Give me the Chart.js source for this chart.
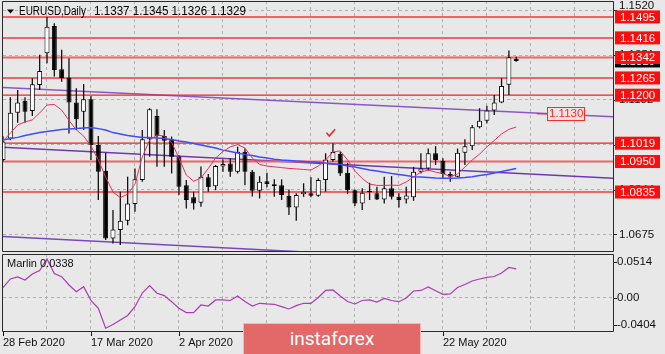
<!DOCTYPE html>
<html>
<head>
<meta charset="utf-8">
<script src="https://cdn.jsdelivr.net/npm/chart.js@4.4.1/dist/chart.umd.min.js"></script>
<style>
  html, body { margin: 0; padding: 0; background: #e8e8e8; }
  #wrap { position: relative; width: 665px; height: 354px; overflow: hidden; background: #e8e8e8; }
  #wrap canvas { position: absolute; left: 0; top: 0; }
  #logo { position: absolute; left: 243px; top: 323px; width: 178px; height: 31px; box-sizing: border-box;
          background: #e36868; border: 1px solid #f4b8b8; border-bottom: none;
          color: #fff; font: 19px Roboto, "Liberation Sans", sans-serif; text-align: center; line-height: 30px; }
</style>
</head>
<body>
<div id="wrap">
  <canvas id="main" width="665" height="354"></canvas>
  <canvas id="osc" width="665" height="354"></canvas>
  <div id="logo">instaforex</div>
</div>
<script>
// EURUSD daily, 28 Feb 2020 .. 5 Jun 2020 (bar index 0..70)
const opens = [
  1.0956,1.1037,1.1134,1.1179,1.1140,1.1238,1.1358,1.1461,1.1298,1.1266,
  1.1172,1.1138,1.1185,1.1012,1.0915,1.0660,1.0692,1.0727,1.0790,1.0880,
  1.1034,1.1122,1.1046,1.1034,1.0968,1.0861,1.0815,1.0795,1.0891,1.0857,
  1.0931,1.0943,1.0911,1.0987,1.0911,1.0840,1.0876,1.0864,1.0861,1.0821,
  1.0777,1.0827,1.0830,1.0821,1.0880,1.0956,1.0978,1.0908,1.0842,1.0792,
  1.0840,1.0830,1.0807,1.0849,1.0817,1.0807,1.0815,1.0911,1.0924,1.0981,
  1.0953,1.0903,1.0893,1.0983,1.1008,1.1079,1.1104,1.1142,1.1172,1.1239,
  1.1337];
const highs = [
  1.1045,1.1192,1.1220,1.1192,1.1264,1.1352,1.1495,1.1471,1.1371,1.1339,
  1.1226,1.1242,1.1197,1.1046,1.0983,1.0767,1.0836,1.0893,1.0924,1.1069,
  1.1151,1.1147,1.1069,1.1044,1.0975,1.0880,1.0836,1.0931,1.0903,1.0937,
  1.0958,1.0962,1.1006,1.0999,1.0918,1.0895,1.0908,1.0883,1.0883,1.0845,
  1.0830,1.0868,1.0891,1.0887,1.0981,1.1019,1.0987,1.0945,1.0845,1.0849,
  1.0870,1.0855,1.0893,1.0895,1.0830,1.0855,1.0930,1.0981,1.0999,1.1008,
  1.0962,1.0911,1.0999,1.1034,1.1088,1.1151,1.1160,1.1201,1.1264,1.1368,
  1.1345];
const lows = [
  1.0950,1.1030,1.1096,1.1096,1.1122,1.1220,1.1320,1.1270,1.1251,1.1056,
  1.1069,1.1069,1.0956,1.0805,1.0654,1.0641,1.0635,1.0710,1.0761,1.0874,
  1.0968,1.0930,1.0930,1.0905,1.0824,1.0773,1.0769,1.0780,1.0836,1.0842,
  1.0911,1.0893,1.0905,1.0861,1.0818,1.0811,1.0853,1.0817,1.0805,1.0748,
  1.0727,1.0817,1.0815,1.0817,1.0836,1.0949,1.0895,1.0827,1.0782,1.0767,
  1.0805,1.0805,1.0792,1.0807,1.0777,1.0792,1.0802,1.0905,1.0915,1.0937,
  1.0887,1.0874,1.0891,1.0937,1.0993,1.1075,1.1094,1.1125,1.1170,1.1201,
  1.1326];
const closes = [
  1.1025,1.1134,1.1172,1.1138,1.1241,1.1291,1.1458,1.1295,1.1264,1.1172,
  1.1109,1.1185,1.1012,1.0911,1.0660,1.0694,1.0727,1.0792,1.0883,1.1034,
  1.1147,1.1046,1.1028,1.0968,1.0855,1.0805,1.0792,1.0893,1.0853,1.0933,
  1.0941,1.0911,1.0987,1.0911,1.0840,1.0874,1.0865,1.0858,1.0824,1.0777,
  1.0824,1.0836,1.0821,1.0880,1.0958,1.0986,1.0905,1.0842,1.0792,1.0832,
  1.0835,1.0807,1.0849,1.0817,1.0805,1.0822,1.0911,1.0924,1.0981,1.0956,
  1.0903,1.0893,1.0983,1.1008,1.1079,1.1104,1.1142,1.1172,1.1235,1.1343,
  1.1329];
const maFast = [
  1.1027,1.1057,1.1088,1.1099,1.1107,1.1133,1.1163,1.1165,1.1144,1.1105,
  1.1069,1.1046,1.1008,1.0956,1.0892,1.0835,1.0814,1.0827,1.0865,1.0967,
  1.1031,1.1050,1.1046,1.1022,1.0963,1.0899,1.0876,1.0888,1.0924,1.0963,
  1.0988,1.1005,1.1014,1.1001,1.0963,1.0939,1.0933,1.0930,1.0927,1.0924,
  1.0922,1.0920,1.0918,1.0933,1.0956,1.0986,1.0990,1.0956,1.0914,1.0886,
  1.0865,1.0860,1.0860,1.0861,1.0860,1.0873,1.0892,1.0910,1.0918,1.0910,
  1.0905,1.0893,1.0903,1.0929,1.0956,1.0978,1.1005,1.1029,1.1054,1.1071,
  1.1080];
const maSlow = [
  1.1031,1.1037,1.1041,1.1048,1.1054,1.1059,1.1063,1.1067,1.1071,1.1073,
  1.1074,1.1076,1.1078,1.1074,1.1069,1.1059,1.1054,1.1048,1.1044,1.1041,
  1.1041,1.1039,1.1037,1.1033,1.1027,1.1024,1.1018,1.1012,1.1007,1.1001,
  1.0993,1.0988,1.0982,1.0976,1.0973,1.0967,1.0963,1.0959,1.0956,1.0954,
  1.0952,1.0950,1.0948,1.0946,1.0944,1.0942,1.0939,1.0933,1.0929,1.0924,
  1.0918,1.0914,1.0910,1.0905,1.0901,1.0897,1.0893,1.0892,1.0890,1.0888,
  1.0887,1.0887,1.0888,1.0890,1.0893,1.0897,1.0901,1.0907,1.0912,1.0918,
  1.0924];
const marlin = [
  0.0118,0.0220,0.0244,0.0208,0.0279,0.0320,0.0455,0.0285,0.0247,0.0149,
  0.0071,0.0129,-0.0033,-0.0125,-0.0360,-0.0315,-0.0262,-0.0209,-0.0106,0.0055,
  0.0141,0.0052,0.0024,-0.0047,-0.0125,-0.0176,-0.0176,-0.0086,-0.0098,-0.0027,
  -0.0027,-0.0033,0.0020,-0.0045,-0.0098,-0.0066,-0.0074,-0.0078,-0.0106,-0.0133,
  -0.0094,-0.0066,-0.0068,0.0002,0.0085,0.0091,0.0020,-0.0045,-0.0074,-0.0033,
  -0.0027,-0.0051,-0.0009,-0.0033,-0.0047,-0.0004,0.0079,0.0085,0.0126,0.0082,
  0.0040,0.0044,0.0120,0.0155,0.0196,0.0220,0.0238,0.0249,0.0291,0.0355,
  0.0338];

const levels = [1.1495, 1.1416, 1.1342, 1.1265, 1.1200, 1.1019, 1.0950, 1.0835];
const priceTicks = [1.0675, 1.0844, 1.1013, 1.1182, 1.1351, 1.1520];
const oscTicks = [0.0514, 0.00, -0.0404];
const dateIdx = [0, 12, 24, 36, 48, 60];
const dateLabels = ["28 Feb 2020", "17 Mar 2020", "2 Apr 2020", "20 Apr 2020", "6 May 2020", "22 May 2020"];

// channel lines: value at first and last slot
const trendX = [0, 83.2];
const trendUpper = [1.1229, 1.1119];
const trendMiddle = [1.1004, 1.0887];
const trendLower = [1.0667, 1.0550];
const tagPrice = 1.1130;
const tagX = [72.8, 74.2];
const checkMark = { x: 44.5, y: 1.1046 };

const X_MAX = 83.2;
const AXIS_W = 52;
const GRID = "#b0b0b0";
const FRAME = "#2a2a2a";
const FONT = '"Liberation Sans", Arial, sans-serif';
const gridIdx = [6, 12, 18, 24, 30, 36, 42, 48, 54, 60, 66, 72, 78];

const idx = opens.map((_, i) => i);
const N = opens.length;

function scalesFor(yMin, yMax, yTicks) {
  return {
    x: {
      type: "linear", min: 0, max: X_MAX, offset: false, bounds: "data",
      afterBuildTicks: s => { s.ticks = gridIdx.map(v => ({ value: v })); },
      afterFit: s => { s.height = 0; },
      ticks: { display: false },
      grid: { color: GRID, offset: false, drawTicks: false },
      border: { display: false, dash: [3, 3] }
    },
    y: {
      type: "linear", position: "right", min: yMin, max: yMax, bounds: "data",
      afterBuildTicks: s => { s.ticks = yTicks.map(v => ({ value: v })); },
      afterFit: s => { s.width = AXIS_W; },
      ticks: { display: false },
      grid: { color: GRID, drawTicks: false },
      border: { display: false, dash: [3, 3] }
    }
  };
}

function lineSet(points, color, width, order) {
  return { type: "line", data: points, borderColor: color, borderWidth: width,
           pointRadius: 0, tension: 0, order: order, clip: 0 };
}

function priceBox(ctx, py, fill, text, textColor) {
  ctx.fillStyle = fill;
  ctx.fillRect(615, py - 6.5, 45, 13);
  ctx.fillStyle = textColor;
  ctx.fillText(text, 620, py + 0.5);
}

function frame(ctx, a) {
  ctx.strokeStyle = FRAME;
  ctx.lineWidth = 1;
  ctx.beginPath();
  ctx.moveTo(2.5, a.top + 0.5); ctx.lineTo(2.5, a.bottom - 0.5);
  ctx.moveTo(a.right + 0.5, a.top + 0.5); ctx.lineTo(a.right + 0.5, a.bottom - 0.5);
  ctx.moveTo(2.5, a.top + 0.5); ctx.lineTo(a.right + 0.5, a.top + 0.5);
  ctx.moveTo(2.5, a.bottom - 0.5); ctx.lineTo(a.right + 0.5, a.bottom - 0.5);
  ctx.stroke();
}

const mainOverlay = {
  id: "mainOverlay",
  afterDraw(chart) {
    const { ctx, chartArea: a, scales: { x, y } } = chart;
    ctx.save();
    frame(ctx, a);

    // "1.1130" tag on the upper channel line
    const t0 = x.getPixelForValue(tagX[1]);
    const t1 = x.getPixelForValue(79.3);
    const ty = y.getPixelForValue(tagPrice);
    ctx.fillStyle = "#efe2e2";
    ctx.fillRect(t0, ty - 6.5, t1 - t0, 13);
    ctx.strokeStyle = "#ff2a2a";
    ctx.strokeRect(Math.round(t0) + 0.5, Math.round(ty - 6.5) + 0.5, Math.round(t1 - t0), 13);
    ctx.font = "11.5px " + FONT;
    ctx.textBaseline = "middle";
    ctx.fillStyle = "#ff2a2a";
    ctx.fillText(tagPrice.toFixed(4), t0 + 2, ty + 0.5);

    // check mark
    const cx = x.getPixelForValue(checkMark.x), cy = y.getPixelForValue(checkMark.y);
    ctx.strokeStyle = "#e82828";
    ctx.lineWidth = 1.6;
    ctx.beginPath();
    ctx.moveTo(cx - 2.8, cy - 3.4); ctx.lineTo(cx, cy); ctx.lineTo(cx + 5.8, cy - 6.8);
    ctx.stroke();

    // right price axis
    ctx.fillStyle = "#111";
    priceTicks.forEach((v, k) => {
      const py = y.getPixelForValue(v);
      ctx.fillRect(614, Math.round(py), 3, 1);
      ctx.fillText(v.toFixed(4), 619, k === priceTicks.length - 1 ? py - 4 : py);
    });
    priceBox(ctx, y.getPixelForValue(closes[N - 1]), "#000", closes[N - 1].toFixed(4), "#fff");
    levels.forEach(p => priceBox(ctx, y.getPixelForValue(p), "#ff0d0d", p.toFixed(4), "#fff"));

    // header
    ctx.fillStyle = "#000";
    ctx.beginPath();
    ctx.moveTo(7, 9.5); ctx.lineTo(14, 9.5); ctx.lineTo(10.5, 13.5); ctx.closePath();
    ctx.fill();
    ctx.font = "12px " + FONT;
    ctx.fillText("EURUSD,Daily", 19, 12, 67);
    const ohlc = [opens[N - 1], highs[N - 1], lows[N - 1], closes[N - 1]].map(v => v.toFixed(4)).join(" ");
    ctx.fillText(ohlc, 94, 12, 152);
    ctx.restore();
  }
};

const oscOverlay = {
  id: "oscOverlay",
  afterDraw(chart) {
    const { ctx, chartArea: a, scales: { x, y } } = chart;
    ctx.save();
    frame(ctx, a);
    ctx.font = "11.5px " + FONT;
    ctx.textBaseline = "middle";
    ctx.fillStyle = "#111";
    const ly = [a.top + 7.7, y.getPixelForValue(0), a.bottom - 7];
    oscTicks.forEach((v, k) => {
      ctx.fillRect(614, Math.round(ly[k]), 3, 1);
      ctx.fillText(v === 0 ? "0.00" : v.toFixed(4), 617, ly[k]);
    });
    ctx.font = "11px " + FONT;
    ctx.fillText("Marlin " + marlin[N - 1].toFixed(4), 7, a.top + 10);
    dateIdx.forEach((i, k) => {
      const px = Math.round(x.getPixelForValue(i));
      ctx.fillRect(px, a.bottom, 1, 4);
      ctx.fillText(dateLabels[k], px, a.bottom + 10.5);
    });
    ctx.restore();
  }
};

const levelStyle = p => (p === 1.1200 || p === 1.1019)
  ? { color: "#ff1c1c", width: 1.3 } : { color: "#f16464", width: 2 };

const mainSets = [
  lineSet(idx.map(i => ({ x: i, y: maFast[i] })), "#e8305a", 1, 0),
  lineSet(idx.map(i => ({ x: i, y: maSlow[i] })), "#3c4cff", 1.5, 0),
  {
    type: "bar", data: idx.map(i => ({ x: i, y: [opens[i], closes[i]] })),
    backgroundColor: idx.map(i => closes[i] >= opens[i] ? "#ffffff" : "#000000"),
    borderColor: "#000", borderWidth: 1, borderSkipped: false,
    grouped: false, maxBarThickness: 5, inflateAmount: 0, order: 1, clip: 0
  },
  {
    type: "bar", data: idx.map(i => ({ x: i, y: [lows[i], highs[i]] })),
    backgroundColor: "#111", borderWidth: 0,
    grouped: false, maxBarThickness: 1.3, inflateAmount: 0, order: 2, clip: 0
  },
  ...levels.map(p => {
    const s = levelStyle(p);
    return lineSet([{ x: 0, y: p }, { x: X_MAX, y: p }], s.color, s.width, 3);
  }),
  lineSet([{ x: tagX[0], y: tagPrice }, { x: tagX[1], y: tagPrice }], "#ff2a2a", 1.3, 3),
  lineSet(trendX.map((v, k) => ({ x: v, y: trendUpper[k] })), "#8a58c6", 1.5, 4),
  lineSet(trendX.map((v, k) => ({ x: v, y: trendMiddle[k] })), "#7038b0", 1.5, 4),
  lineSet(trendX.map((v, k) => ({ x: v, y: trendLower[k] })), "#7a48bc", 1.5, 4)
];

new Chart(document.getElementById("main"), {
  type: "bar",
  data: { datasets: mainSets },
  options: {
    responsive: false, animation: false, events: [], devicePixelRatio: 1,
    layout: { padding: { left: 3, top: 1, right: 0, bottom: 102 } },
    plugins: { legend: { display: false }, tooltip: { enabled: false } },
    scales: scalesFor(1.0609, 1.1555, priceTicks)
  },
  plugins: [mainOverlay]
});

new Chart(document.getElementById("osc"), {
  type: "line",
  data: { datasets: [lineSet(idx.map(i => ({ x: i, y: marlin[i] })), "#a83cb4", 1.2, 0)] },
  options: {
    responsive: false, animation: false, events: [], devicePixelRatio: 1,
    layout: { padding: { left: 3, top: 254, right: 0, bottom: 22 } },
    plugins: { legend: { display: false }, tooltip: { enabled: false } },
    scales: scalesFor(-0.0404, 0.0514, [0])
  },
  plugins: [oscOverlay]
});
</script>
</body>
</html>
